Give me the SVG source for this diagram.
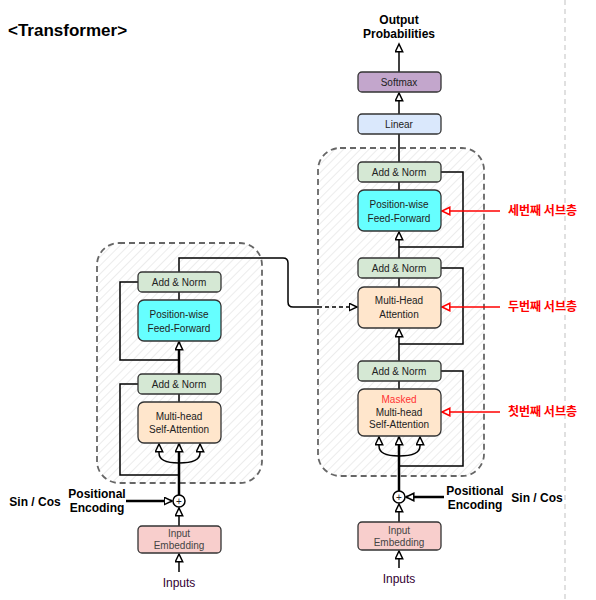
<svg xmlns="http://www.w3.org/2000/svg" width="596" height="600" viewBox="0 0 596 600">
<defs>
<pattern id="hatch" width="6" height="6" patternUnits="userSpaceOnUse" patternTransform="rotate(45)">
<line x1="0" y1="0" x2="0" y2="6" stroke="#d9d9d9" stroke-width="1"/>
</pattern>
<marker id="arr" markerUnits="userSpaceOnUse" markerWidth="11" markerHeight="10" refX="8.5" refY="4.5" orient="auto">
<path d="M0.7,0.8 L8.5,4.5 L0.7,8.2 Z" fill="#fff" stroke="#000" stroke-width="1.5"/>
</marker>
<marker id="arrR" markerUnits="userSpaceOnUse" markerWidth="11" markerHeight="10" refX="8.5" refY="4.5" orient="auto">
<path d="M0.7,0.8 L8.5,4.5 L0.7,8.2 Z" fill="#fff" stroke="#ff0000" stroke-width="1.5"/>
</marker>
<style>
.box{stroke:#333;stroke-width:1.3}
.an{fill:#d5e8d4}
.ff{fill:#66ffff}
.mha{fill:#ffe6cc}
.emb{fill:#f8cecc}
.t{font-family:"Liberation Sans",Arial,sans-serif;font-size:10px;fill:#222;text-anchor:middle}
.ts{font-size:10px;fill:#444}
.tin{font-size:12px;fill:#330033}
.tmask{fill:#ff3333}
.tb{font-family:"Liberation Sans",Arial,sans-serif;font-size:12px;font-weight:bold;fill:#000;text-anchor:middle}
.ln{fill:none;stroke:#000;stroke-width:1.5}
.th{fill:none;stroke:#000;stroke-width:2.5}
.red{fill:none;stroke:#ff0000;stroke-width:1.5}
.kr{font-family:"Noto Sans CJK KR","Liberation Sans",sans-serif;font-size:12px;font-weight:bold;fill:#ff0000}
.cont{fill:url(#hatch);stroke:#666;stroke-width:1.8;stroke-dasharray:6 4}
</style>
</defs>
<rect width="596" height="600" fill="#fff"/>
<line x1="565" y1="0" x2="565" y2="600" stroke="#ccc" stroke-width="1.2" stroke-dasharray="5 4"/>
<text x="8" y="36" font-family="Liberation Sans,Arial,sans-serif" font-size="17" font-weight="bold" fill="#000">&lt;Transformer&gt;</text>

<g id="enc-container"><rect class="cont" x="97" y="243" width="165" height="240" rx="22"/></g>
<g id="dec-container"><rect class="cont" x="318" y="148" width="166" height="328" rx="22"/></g>

<g id="connectors">
<!-- encoder -->
<line class="ln" x1="179" y1="526" x2="179" y2="508" marker-end="url(#arr)"/>
<line class="ln" x1="179" y1="572" x2="179" y2="554" marker-end="url(#arr)"/>
<line class="th" x1="179" y1="495" x2="179" y2="444" marker-end="url(#arr)"/>
<path class="ln" d="M179,463 Q159,463 159,453 L159,444" marker-end="url(#arr)"/>
<path class="ln" d="M179,463 Q200,463 200,453 L200,444" marker-end="url(#arr)"/>
<path class="ln" d="M179,475 L120,475 L120,384 L138,384"/>
<line class="ln" x1="179" y1="402" x2="179" y2="394"/>
<line class="th" x1="179" y1="374" x2="179" y2="342" marker-end="url(#arr)"/>
<path class="ln" d="M179,360 L120,360 L120,282 L138,282"/>
<line class="ln" x1="179" y1="300" x2="179" y2="292"/>
<path class="ln" d="M179,272 L179,258 L283,258 Q288,258 288,263 L288,302 Q288,307 293,307 L318,307"/>
<line class="ln" x1="318" y1="307" x2="357" y2="307" stroke-dasharray="4 3" marker-end="url(#arr)"/>
<path class="th" d="M126,501 L172,501" stroke-width="2" marker-end="url(#arr)"/>
<!-- decoder -->
<line class="ln" x1="399" y1="568" x2="399" y2="551" marker-end="url(#arr)"/>
<line class="ln" x1="399" y1="522" x2="399" y2="504" marker-end="url(#arr)"/>
<path class="th" d="M444,497 L406,497" stroke-width="2" marker-end="url(#arr)"/>
<line class="th" x1="399" y1="491" x2="399" y2="437" marker-end="url(#arr)"/>
<path class="ln" d="M399,456 Q379,456 379,446 L379,437" marker-end="url(#arr)"/>
<path class="ln" d="M399,456 Q420,456 420,446 L420,437" marker-end="url(#arr)"/>
<path class="ln" d="M399,466 L463,466 L463,371 L441,371"/>
<line class="ln" x1="399" y1="389" x2="399" y2="381"/>
<line class="ln" x1="399" y1="361" x2="399" y2="329" marker-end="url(#arr)"/>
<path class="ln" d="M399,344 L463,344 L463,268 L441,268"/>
<line class="ln" x1="399" y1="287" x2="399" y2="278"/>
<line class="ln" x1="399" y1="258" x2="399" y2="232" marker-end="url(#arr)"/>
<path class="ln" d="M399,247 L463,247 L463,172 L441,172"/>
<line class="ln" x1="399" y1="190" x2="399" y2="182"/>
<line class="ln" x1="399" y1="162" x2="399" y2="134"/>
<line class="ln" x1="399" y1="114" x2="399" y2="93" marker-end="url(#arr)"/>
<line class="ln" x1="399" y1="72" x2="399" y2="44" marker-end="url(#arr)"/>
<!-- red -->
<line class="red" x1="500" y1="211" x2="442" y2="211" marker-end="url(#arrR)"/>
<line class="red" x1="500" y1="307" x2="442" y2="307" marker-end="url(#arrR)"/>
<line class="red" x1="500" y1="412" x2="442" y2="412" marker-end="url(#arrR)"/>
</g>

<g id="enc-addnorm2"><rect class="box an" x="138" y="272" width="83" height="20" rx="4"/><text class="t" x="179" y="286">Add &amp; Norm</text></g>
<g id="enc-ff"><rect class="box ff" x="138" y="300" width="83" height="41" rx="6"/><text class="t" x="179" y="318">Position-wise</text><text class="t" x="179" y="332">Feed-Forward</text></g>
<g id="enc-addnorm1"><rect class="box an" x="138" y="374" width="83" height="20" rx="4"/><text class="t" x="179" y="388">Add &amp; Norm</text></g>
<g id="enc-mha"><rect class="box mha" x="138" y="402" width="83" height="41" rx="6"/><text class="t" x="179" y="420">Multi-head</text><text class="t" x="179" y="433">Self-Attention</text></g>
<g id="enc-plus"><circle cx="179" cy="501" r="6" fill="#fff" stroke="#000" stroke-width="1.5"/><text class="t" x="179" y="504.5">+</text></g>
<g id="enc-emb"><rect class="box emb" x="138" y="526" width="83" height="27" rx="4"/><text class="t ts" x="179" y="537">Input</text><text class="t ts" x="179" y="549">Embedding</text></g>
<g id="enc-inputs"><text class="t tin" x="179" y="587">Inputs</text></g>
<g id="enc-pe"><text class="tb" x="97" y="498">Positional</text><text class="tb" x="97" y="512">Encoding</text></g>
<g id="enc-sincos"><text class="tb" x="35" y="506">Sin / Cos</text></g>

<g id="out-prob"><text class="tb" x="399" y="24">Output</text><text class="tb" x="399" y="38">Probabilities</text></g>
<g id="softmax"><rect class="box" fill="#c3a6cc" x="358" y="72" width="83" height="20" rx="4"/><text class="t" x="399" y="86">Softmax</text></g>
<g id="linear"><rect class="box" fill="#dae8fc" x="358" y="114" width="83" height="20" rx="4"/><text class="t" x="399" y="128">Linear</text></g>
<g id="dec-addnorm3"><rect class="box an" x="358" y="162" width="83" height="20" rx="4"/><text class="t" x="399" y="176">Add &amp; Norm</text></g>
<g id="dec-ff"><rect class="box ff" x="358" y="190" width="83" height="41" rx="6"/><text class="t" x="399" y="208">Position-wise</text><text class="t" x="399" y="222">Feed-Forward</text></g>
<g id="dec-addnorm2"><rect class="box an" x="358" y="258" width="83" height="20" rx="4"/><text class="t" x="399" y="272">Add &amp; Norm</text></g>
<g id="dec-mha"><rect class="box mha" x="358" y="287" width="83" height="41" rx="6"/><text class="t" x="399" y="304">Multi-Head</text><text class="t" x="399" y="318">Attention</text></g>
<g id="dec-addnorm1"><rect class="box an" x="358" y="361" width="83" height="20" rx="4"/><text class="t" x="399" y="375">Add &amp; Norm</text></g>
<g id="dec-masked"><rect class="box mha" x="358" y="389" width="83" height="47" rx="6"/><text class="t tmask" x="399" y="403">Masked</text><text class="t" x="399" y="416">Multi-head</text><text class="t" x="399" y="428">Self-Attention</text></g>
<g id="dec-plus"><circle cx="399" cy="497" r="6" fill="#fff" stroke="#000" stroke-width="1.5"/><text class="t" x="399" y="500.5">+</text></g>
<g id="dec-emb"><rect class="box emb" x="358" y="522" width="83" height="28" rx="4"/><text class="t ts" x="399" y="534">Input</text><text class="t ts" x="399" y="546">Embedding</text></g>
<g id="dec-inputs"><text class="t tin" x="399" y="583">Inputs</text></g>
<g id="dec-pe"><text class="tb" x="475" y="495">Positional</text><text class="tb" x="475" y="509">Encoding</text></g>
<g id="dec-sincos"><text class="tb" x="537" y="502">Sin / Cos</text></g>

<g id="label3"><text class="kr" x="508" y="215">세번째 서브층</text></g>
<g id="label2"><text class="kr" x="508" y="311">두번째 서브층</text></g>
<g id="label1"><text class="kr" x="508" y="416">첫번째 서브층</text></g>
</svg>
